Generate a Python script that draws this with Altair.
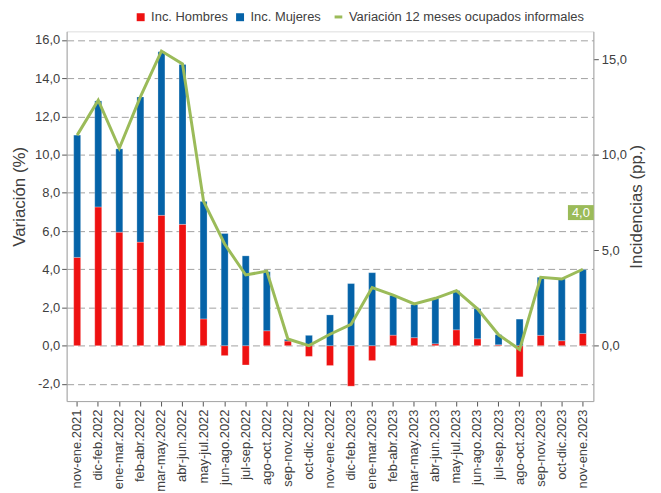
import altair as alt
import pandas as pd

periodos = ["nov-ene.2021", "dic-feb.2022", "ene-mar.2022", "feb-abr.2022", "mar-may.2022",
            "abr-jun.2022", "may-jul.2022", "jun-ago.2022", "jul-sep.2022", "ago-oct.2022",
            "sep-nov.2022", "oct-dic.2022", "nov-ene.2022", "dic-feb.2023", "ene-mar.2023",
            "feb-abr.2023", "mar-may.2023", "abr-jun.2023", "may-jul.2023", "jun-ago.2023",
            "jul-sep.2023", "ago-oct.2023", "sep-nov.2023", "oct-dic.2023", "nov-ene.2023"]
inc_hombres = [4.62, 7.26, 5.94, 5.42, 6.82, 6.35, 1.40, -0.52, -1.01, 0.78,
               0.24, -0.56, -1.04, -2.12, -0.78, 0.55, 0.42, 0.10, 0.83, 0.36,
               0.05, -1.63, 0.54, 0.26, 0.64]
inc_mujeres = [6.40, 5.55, 4.36, 7.60, 8.56, 8.37, 6.15, 5.87, 4.70, 3.09,
               0.09, 0.54, 1.61, 3.25, 3.82, 2.08, 1.73, 2.38, 2.05, 1.58,
               0.52, 1.39, 3.04, 3.23, 3.34]
variacion = [11.02, 12.85, 10.33, 13.02, 15.42, 14.75, 7.55, 5.32, 3.70, 3.90,
             0.35, 0.00, 0.60, 1.12, 3.04, 2.65, 2.19, 2.48, 2.88, 1.93,
             0.57, -0.20, 3.58, 3.49, 4.00]

series_barras = ["Inc. Hombres", "Inc. Mujeres"]
serie_linea = "Variación 12 meses ocupados informales"

FONT = "Liberation Sans"
RED = "#ee1111"
BLUE = "#0563a8"
GREEN = "#9bbb59"
TXT = "#404040"
DOMAIN = [-2.9, 16.45]

rows = []
for i, p in enumerate(periodos):
    rows.append({"periodo": p, "serie": series_barras[0], "valor": inc_hombres[i], "orden": 0})
    rows.append({"periodo": p, "serie": series_barras[1], "valor": inc_mujeres[i], "orden": 1})
df_bars = pd.DataFrame(rows)
df_line = pd.DataFrame({"periodo": periodos, "valor": variacion, "serie": serie_linea})
df_lab = pd.DataFrame({"periodo": [periodos[-1]], "valor": [variacion[-1]]})

num_expr = "replace(replace(format(datum.value, '.1f'), '.', ','), '\u2212', '-')"

x_enc = alt.X("periodo:N", sort=periodos,
              scale=alt.Scale(paddingInner=0, paddingOuter=0),
              axis=alt.Axis(title=None, labelAngle=-90, labelFontSize=13, labelColor=TXT,
                            labelFont=FONT, tickColor="#555", tickSize=5,
                            domainColor="#a6a6a6", labelPadding=3, labelLimit=200))

bars = alt.Chart(df_bars).mark_bar(size=7, stroke="white", strokeWidth=0.5, strokeOpacity=0.5).encode(
    x=x_enc,
    y=alt.Y("valor:Q", stack="zero",
            scale=alt.Scale(domain=DOMAIN, nice=False, zero=False),
            axis=alt.Axis(orient="right", title="Incidencias (pp.)", values=[0, 5, 10, 15],
                          labelExpr=num_expr, grid=False, labelFontSize=13, labelColor=TXT,
                          labelFont=FONT, titleFont=FONT, titleFontSize=17, titleFontWeight="normal",
                          titleColor=TXT, tickColor="#555", tickSize=5, domainColor="#a6a6a6",
                          labelPadding=3, titlePadding=2, titleY=176, titleAngle=-90,
                          titleBaseline="top")),
    color=alt.Color("serie:N", scale=alt.Scale(domain=series_barras, range=[RED, BLUE]),
                    legend=alt.Legend(title=None, orient="none", direction="horizontal",
                                      legendX=68, legendY=-21, symbolType="square", symbolSize=64,
                                      labelFontSize=13, labelFont=FONT, labelColor=TXT,
                                      columnPadding=5, symbolStrokeWidth=0, padding=0)),
    order=alt.Order("orden:Q"),
)

line = alt.Chart(df_line).mark_line(strokeWidth=3).encode(
    x=alt.X("periodo:N", sort=periodos),
    y=alt.Y("valor:Q",
            scale=alt.Scale(domain=DOMAIN, nice=False, zero=False),
            axis=alt.Axis(orient="left", title="Variación (%)", values=list(range(-2, 17, 2)),
                          labelExpr=num_expr, grid=True, gridDash=[7, 4], gridColor="#a0a0a0",
                          gridWidth=1, labelFontSize=13, labelColor=TXT, labelFont=FONT,
                          titleFont=FONT, titleFontSize=17, titleFontWeight="normal", titleColor=TXT,
                          tickColor="#555", tickSize=5, domainColor="#a6a6a6",
                          labelPadding=2, titlePadding=6, titleY=166)),
    stroke=alt.Stroke("serie:N", scale=alt.Scale(domain=[serie_linea], range=[GREEN]),
                      legend=alt.Legend(title=None, orient="none", legendX=267, legendY=-21,
                                        symbolType="stroke", symbolSize=60, symbolStrokeWidth=3,
                                        labelFontSize=13, labelFont=FONT, labelColor=TXT,
                                        labelLimit=400, padding=0)),
)

box = alt.Chart(df_lab).mark_point(shape="M-1,-0.58L1,-0.58L1,0.58L-1,0.58Z", filled=True,
                                   size=676, color=GREEN, opacity=1, yOffset=-57, xOffset=-2).encode(
    x=alt.X("periodo:N", sort=periodos),
    y=alt.Y("valor:Q", scale=alt.Scale(domain=DOMAIN, nice=False, zero=False), axis=None),
)

label = alt.Chart(df_lab).transform_calculate(
    txt="replace(format(datum.valor, '.1f'), '.', ',')"
).mark_text(color="white", fontSize=13, font=FONT, align="center", baseline="middle",
            yOffset=-57, xOffset=-2).encode(
    x=alt.X("periodo:N", sort=periodos),
    y=alt.Y("valor:Q", scale=alt.Scale(domain=DOMAIN, nice=False, zero=False), axis=None),
    text="txt:N",
)

chart = alt.layer(bars, line, box, label).resolve_scale(y="independent").properties(
    width=530, height=372,
    padding={"left": 59, "top": 22, "right": 60, "bottom": 95},
    autosize="none",
).configure_view(stroke=None).configure(background="white")

chart.save("out.html", embed_options={"renderer": "svg", "actions": False})
